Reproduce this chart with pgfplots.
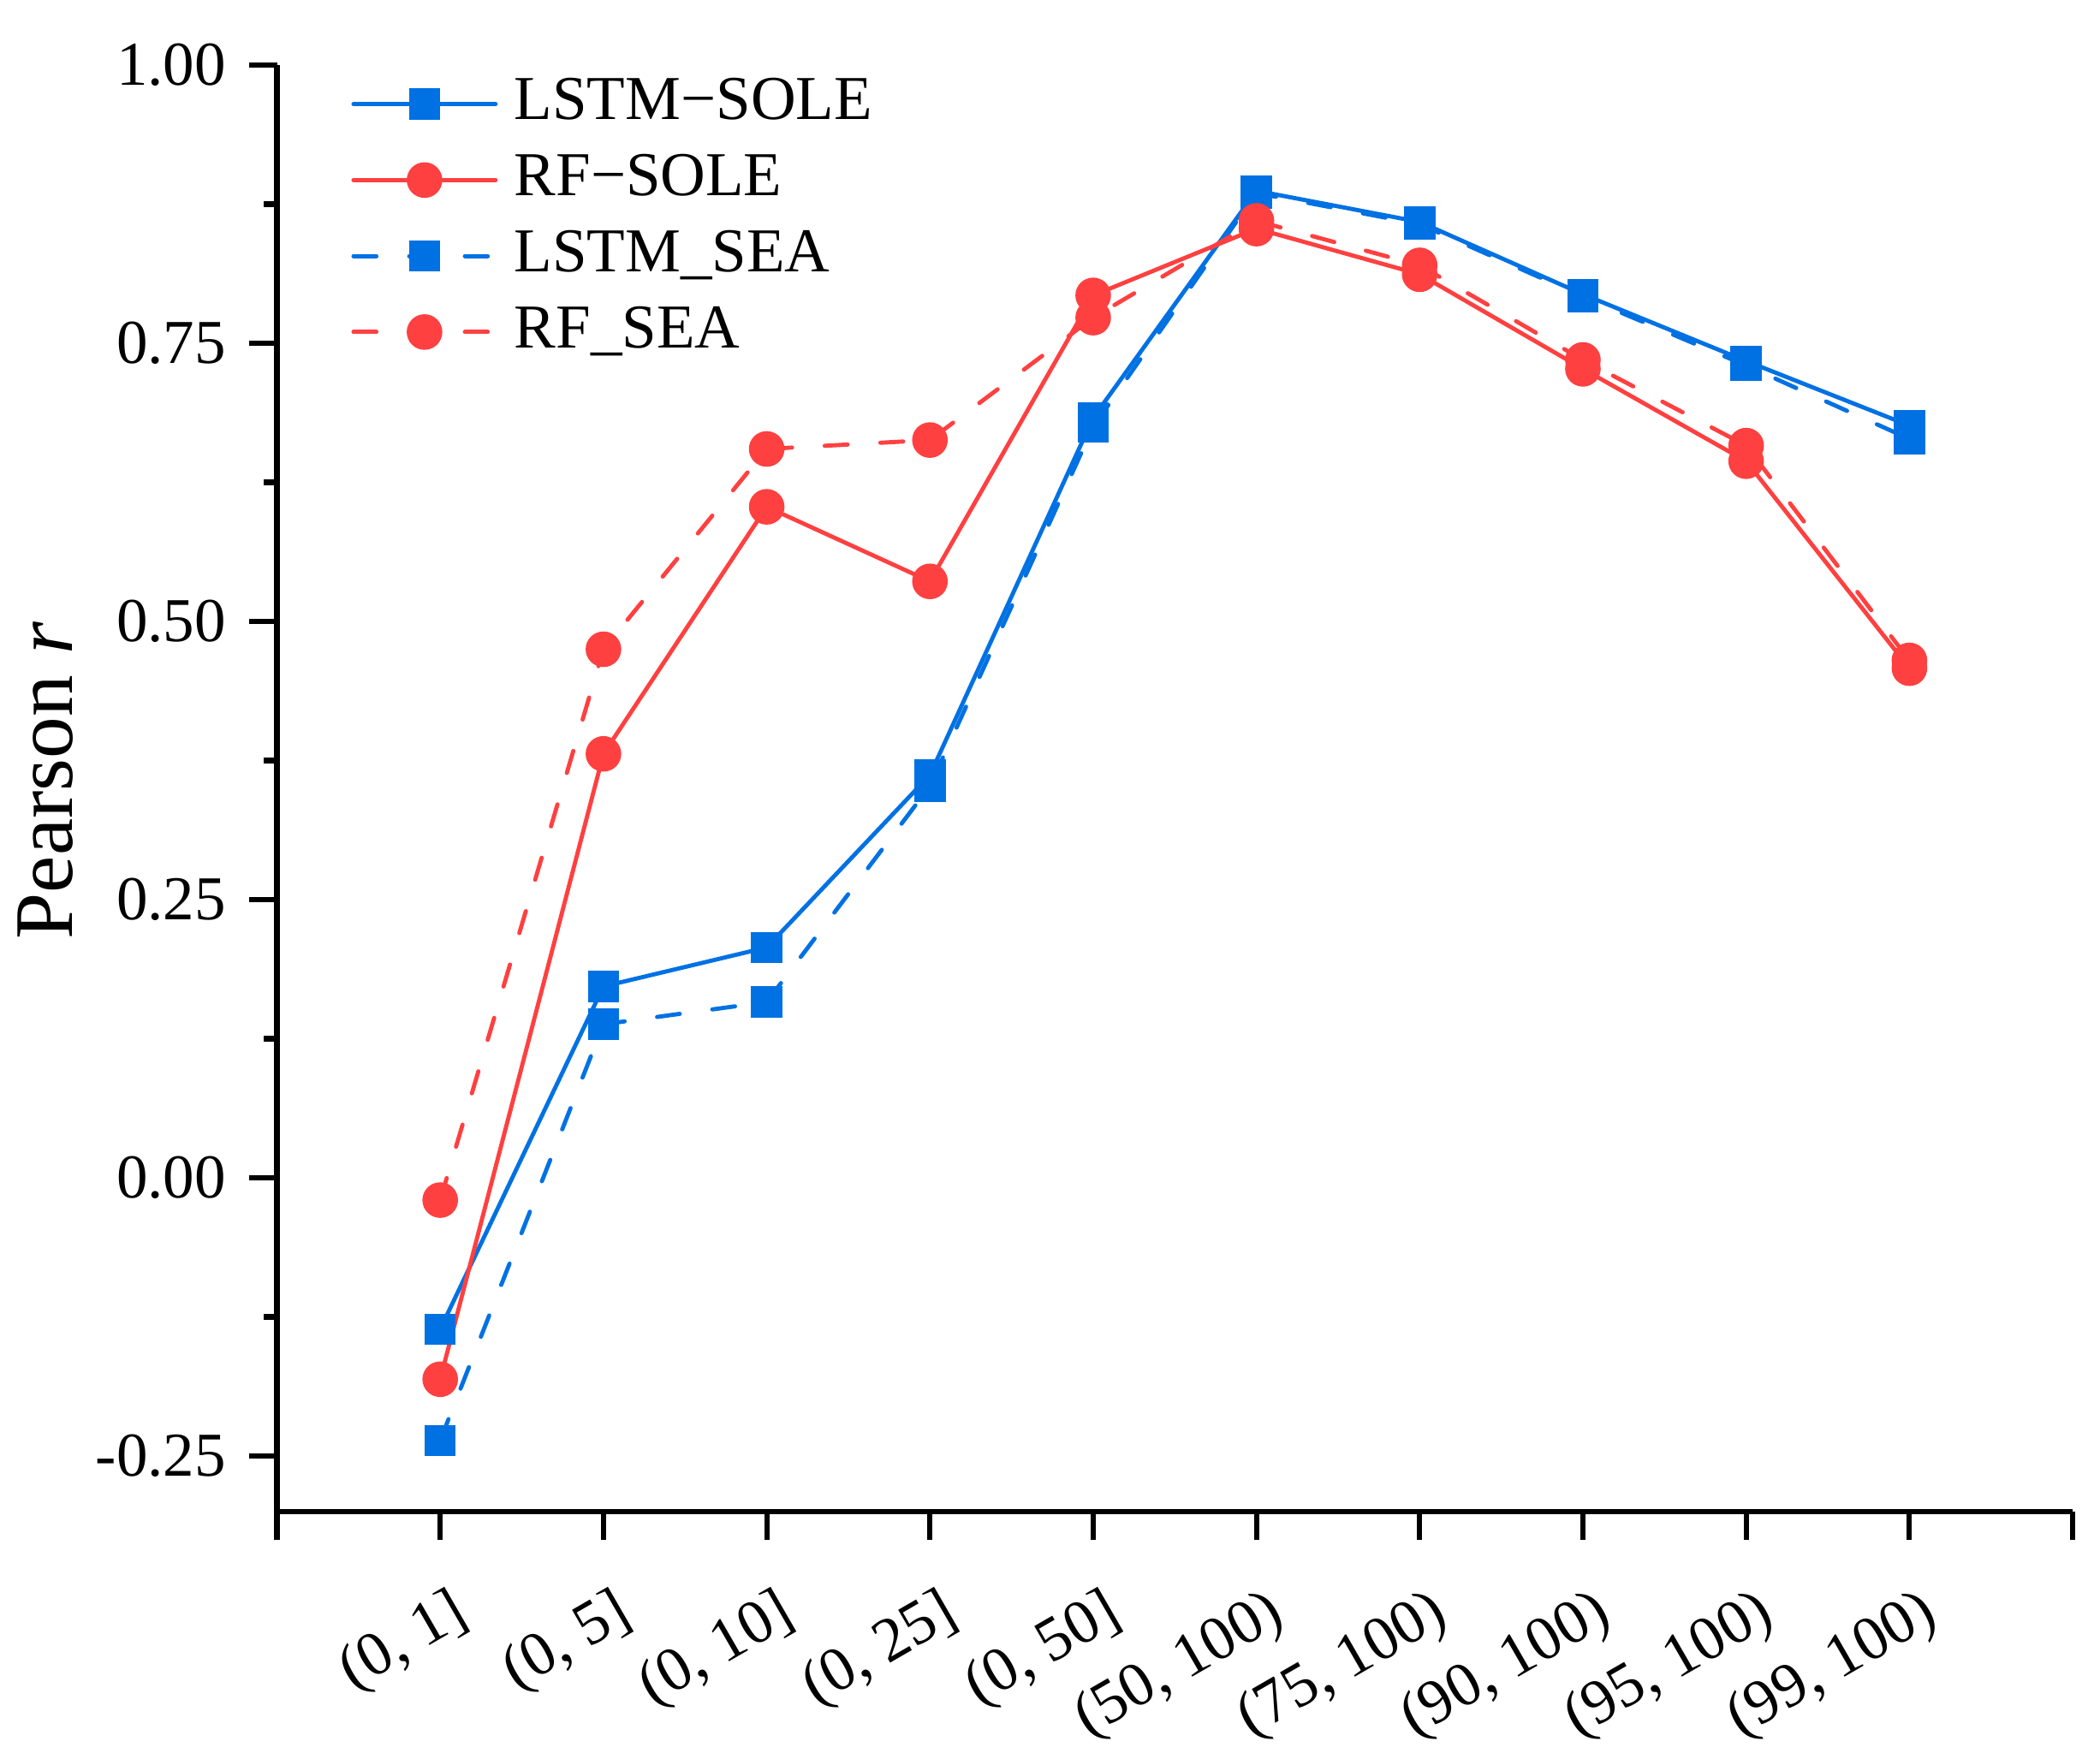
\documentclass[border=0pt]{standalone}
\usepackage{fontspec}
\setmainfont{Liberation Serif}
\usepackage{pgfplots}
\pgfplotsset{compat=1.18}
\usetikzlibrary{calc}
\definecolor{cblue}{RGB}{0,113,227}
\definecolor{cred}{RGB}{255,64,64}
\begin{document}
\begin{tikzpicture}
\begin{axis}[
  scale only axis, width=344.98pt, height=277.96pt,
  xmin=0, xmax=11, ymin=-0.3, ymax=1.0,
  axis x line=bottom, axis y line=left,
  axis line style={-, line width=1pt, black},
  xtick={0,...,11},
  xticklabels={{},{(0, 1]},{(0, 5]},{(0, 10]},{(0, 25]},{(0, 50]},{(50, 100)},{(75, 100)},{(90, 100)},{(95, 100)},{(99, 100)},{}},
  ytick={-0.25,0,0.25,0.5,0.75,1},
  yticklabels={-0.25,0.00,0.25,0.50,0.75,1.00},
  minor y tick num=1,
  tick align=outside,
  major tick length=5.4pt, minor tick length=2.5pt,
  tick style={line width=1pt, black},
  xticklabel style={font=\fontsize{12}{14}\selectfont, xshift=1.7pt, yshift=-8.4pt, rotate=30, anchor=north east, inner sep=0pt},
  yticklabel style={font=\fontsize{12}{14}\selectfont, anchor=east, inner sep=0pt, xshift=-4.2pt},
  ylabel={Pearson \textit{r}},
  ylabel style={font=\fontsize{16}{19}\selectfont, at={($(rel axis cs:0,0.5)+(-44.5pt,1.5pt)$)}, anchor=center},
  legend style={at={(rel axis cs:0,1)}, anchor=north west, xshift=14.3pt, yshift=-1.5pt, draw=none, fill=none, inner sep=0pt, outer sep=0pt, row sep=2.6pt, column sep=3.2pt, font=\fontsize{12}{14}\selectfont, nodes={inner sep=0pt, text height=9pt, text depth=3pt}},
  legend cell align=left,
  legend image code/.code={\draw[mark repeat=2,mark phase=2,#1] plot coordinates {(0pt,0pt) (13.65pt,0pt) (27.3pt,0pt)};},
]
\addplot[color=cblue, line width=0.8pt, line cap=round, mark=square*, mark size=2.85pt, mark options={solid, fill=cblue, line width=0.3pt}]
  coordinates {(1,-0.136) (2,0.172) (3,0.207) (4,0.362) (5,0.683) (6,0.887) (7,0.859) (8,0.794) (9,0.734) (10,0.676)};
\addlegendentry{LSTM−SOLE}
\addplot[color=cred, line width=0.8pt, line cap=round, mark=*, mark size=3.27pt, mark options={solid, fill=cred, line width=0.3pt}]
  coordinates {(1,-0.181) (2,0.381) (3,0.603) (4,0.536) (5,0.793) (6,0.853) (7,0.812) (8,0.727) (9,0.644) (10,0.458)};
\addlegendentry{RF−SOLE}
\addplot[color=cblue, line width=0.8pt, line cap=round, dash pattern=on 4.4pt off 6.3pt, mark=square*, mark size=2.85pt, mark options={solid, fill=cblue, line width=0.3pt}]
  coordinates {(1,-0.236) (2,0.138) (3,0.158) (4,0.352) (5,0.675) (6,0.885) (7,0.857) (8,0.792) (9,0.730) (10,0.664)};
\addlegendentry{LSTM\_SEA}
\addplot[color=cred, line width=0.8pt, line cap=round, dash pattern=on 4.4pt off 6.3pt, mark=*, mark size=3.27pt, mark options={solid, fill=cred, line width=0.3pt}]
  coordinates {(1,-0.020) (2,0.475) (3,0.655) (4,0.663) (5,0.773) (6,0.860) (7,0.820) (8,0.735) (9,0.658) (10,0.465)};
\addlegendentry{RF\_SEA}
\end{axis}
\pgfresetboundingbox
\useasboundingbox (-53.21pt,-47.37pt) rectangle (350.24pt,290.46pt);
\end{tikzpicture}
\end{document}
